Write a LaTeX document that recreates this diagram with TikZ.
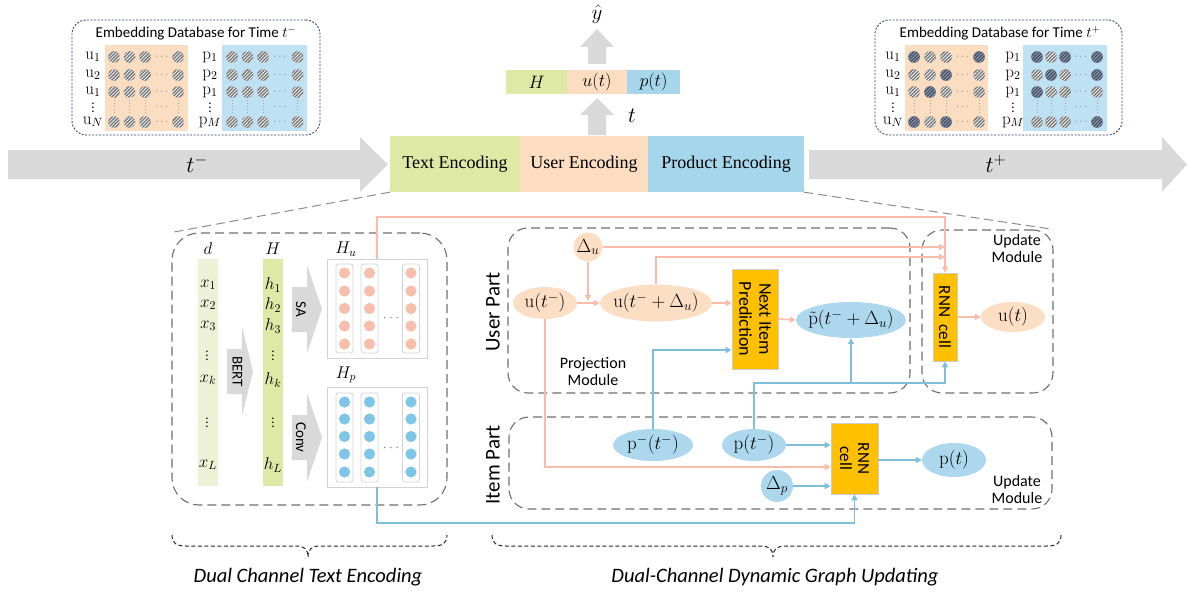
\documentclass[tikz,border=0pt]{standalone}
\IfFileExists{fix-cm.sty}{\usepackage{fix-cm}}{}
\usepackage[no-math]{fontspec}
\setmainfont{Carlito}
\newfontfamily\tnr{Liberation Serif}
\usetikzlibrary{arrows.meta,shapes.geometric,patterns,patterns.meta,calc}
\definecolor{cgreen}{RGB}{222,233,166}
\definecolor{cdcol}{RGB}{236,242,214}
\definecolor{cpeach}{RGB}{252,221,193}
\definecolor{cblue}{RGB}{166,214,236}
\definecolor{dbpeach}{RGB}{251,222,194}
\definecolor{dbblue}{RGB}{190,226,243}
\definecolor{cpink}{RGB}{248,188,168}
\definecolor{cbline}{RGB}{128,190,222}
\definecolor{cpinkdot}{RGB}{248,190,172}
\definecolor{cbluedot}{RGB}{125,198,232}
\definecolor{cyel}{RGB}{255,192,0}
\definecolor{carrow}{RGB}{217,217,217}
\definecolor{cdash}{RGB}{110,110,110}
\definecolor{cnavy}{RGB}{50,65,100}
\definecolor{cgc}{RGB}{115,115,115}
\definecolor{cdark}{RGB}{62,78,112}
\definecolor{ellpeach}{RGB}{252,222,196}
\definecolor{ellblue}{RGB}{172,215,236}
\newcommand\fsz[2]{\fontsize{#1pt}{#2pt}\selectfont}
\newcommand\zb[1]{\makebox[0pt]{#1}}
\newcommand\hcirc[3]{%
  \ifnum#3=1\relax\def\hcc{cdark}\def\hcl{gray!70}\else\def\hcc{cgc}\def\hcl{white}\fi
  \fill[\hcc] (#1,#2) circle[radius=5.8pt];
  \fill[pattern={Lines[angle=45,distance=2.4pt,line width=0.8pt]}, pattern color=\hcl] (#1,#2) circle[radius=5.8pt];}
\tikzset{
  dbox/.style={draw=cdash, line width=1.1pt, dash pattern=on 9pt off 5pt, rounded corners=#1, inner sep=0pt},
  dbline/.style={draw=cdash!80, line width=1pt, dash pattern=on 9pt off 5pt},
  dbframe/.style={draw=cnavy, line width=0.9pt, dash pattern=on 2pt off 1.5pt, rounded corners=14pt, inner sep=0pt},
  band/.style={inner sep=0pt, minimum height=56pt, font=\tnr\fsz{18}{20}},
  rowbox/.style={inner sep=0pt, minimum height=24pt, font=\fsz{18}{20}},
  pk/.style={draw=cpink, line width=1.6pt},
  bl/.style={draw=cbline, line width=1.6pt},
  arw/.style={-{Triangle[length=6pt,width=6pt]}},
  uel/.style={ellipse, fill=ellpeach, inner sep=0pt, font=\fsz{19}{21}},
  pel/.style={ellipse, fill=ellblue, inner sep=0pt, font=\fsz{19}{21}},
  ybox/.style={fill=cyel, draw=gray!40, line width=0.6pt, inner sep=0pt},
  rtxt/.style={rotate=-90, align=center, font=\fsz{18}{20}},
  colbox/.style={draw=gray!35, line width=0.8pt, rounded corners=2.5pt},
  hbox/.style={draw=gray!35, line width=1pt, inner sep=0pt},
  lab/.style={font=\fsz{15}{17}},
  mlab/.style={font=\fsz{17}{19}},
  vlab/.style={font=\fsz{13}{14}},
  dotn/.style={font=\fsz{11}{12}, text=gray, inner sep=0pt},
  modl/.style={align=center, font=\fsz{16}{17}},
  brace/.style={draw=black!85, line width=1pt, dash pattern=on 4pt off 2.5pt},
}
\begin{document}
\begin{tikzpicture}[x=1pt,y=-1pt]
\useasboundingbox (0,0) rectangle (1188,594);

% ---------- timeline ----------
\fill[carrow] (8,150) -- (360,150) -- (360,137) -- (388,164.5) -- (360,192) -- (360,179) -- (8,179) -- cycle;
\fill[carrow] (809,150) -- (1162,150) -- (1162,137) -- (1187,164.5) -- (1162,192) -- (1162,179) -- (809,179) -- cycle;
\node[font=\fsz{23}{25}] (tm) at (197,164) {$t^-$};
\node[font=\fsz{23}{25}] (tp) at (996,164) {$t^+$};

\node[band, fill=cgreen, minimum width=130pt] (te) at (455,164) {Text Encoding};
\node[band, fill=cpeach, minimum width=128pt] (ue) at (584,164) {User Encoding};
\node[band, fill=cblue, minimum width=156pt] (pe) at (726,164) {Product Encoding};

% ---------- top output ----------
\node[rowbox, fill=cgreen, minimum width=61pt] (hb) at (536.5,82) {$H$};
\node[rowbox, fill=cpeach, minimum width=60pt] (ub) at (597,82) {$u(t)$};
\node[rowbox, fill=cblue, minimum width=53pt] (pb) at (653.5,82) {$p(t)$};
\fill[carrow] (588,135) -- (588,115) -- (580,115) -- (597,98) -- (614,115) -- (606,115) -- (606,135) -- cycle;
\fill[carrow] (588,64) -- (588,47) -- (580,47) -- (597,29) -- (614,47) -- (606,47) -- (606,64) -- cycle;
\node[font=\fsz{21}{23}] (yh) at (597,14) {$\hat{y}$};
\node[font=\fsz{22}{24}] (tt) at (632,116) {$t$};

% ---------- left database ----------
\node[dbframe, minimum width=248pt, minimum height=115pt] (dbL) at (196,77.5) {};
\node[lab] (dbLt) at (196,33) {Embedding Database for Time $t^-$};
\fill[dbpeach] (105,45) rectangle (188,131);
\fill[dbblue] (222,45) rectangle (307,131);
\foreach \y/\s [count=\i] in {57/1,75/2,92/1,122/N} {
  \node[mlab] (uL\i) at (93,\y) {$\mathrm{u}_{\s}$};
}
\foreach \y/\s [count=\i] in {57/1,75/2,92/1,122/M} {
  \node[mlab] (pL\i) at (210,\y) {$\mathrm{p}_{\s}$};
}
\node[vlab] (uLv) at (93,105) {$\vdots$};
\node[vlab] (pLv) at (210,105) {$\vdots$};
\foreach \y in {57,75,92,122} {
  \foreach \x in {114,129.5,145,178,232,247.5,263,297.5} { \hcirc{\x}{\y}{0} }
}
\foreach \x in {114,129.5,145,178,232,247.5,263,297.5} {
  \draw[gray!70, line width=1pt, dotted] (\x,100) -- (\x,115);
}
\foreach \y [count=\i] in {57,75,92,107,122} {
  \node[dotn] (dLa\i) at (162,\y) {$\cdots$};
  \node[dotn] (dLb\i) at (280,\y) {$\cdots$};
}

% ---------- right database ----------
\node[dbframe, minimum width=247pt, minimum height=115pt] (dbR) at (998.5,77.5) {};
\node[lab] (dbRt) at (1000,33) {Embedding Database for Time $t^+$};
\fill[dbpeach] (905,45) rectangle (988,131);
\fill[dbblue] (1023,45) rectangle (1107,131);
\foreach \y/\s [count=\i] in {57/1,75/2,92/1,122/N} {
  \node[mlab] (uR\i) at (893,\y) {$\mathrm{u}_{\s}$};
}
\foreach \y/\s [count=\i] in {57/1,75/2,92/1,122/M} {
  \node[mlab] (pR\i) at (1013,\y) {$\mathrm{p}_{\s}$};
}
\node[vlab] (uRv) at (893,105) {$\vdots$};
\node[vlab] (pRv) at (1013,105) {$\vdots$};
\foreach \y/\qa/\qb/\qc/\qd/\qe/\qf/\qg/\qh in {57/1/0/0/1/1/0/1/1, 75/0/0/1/0/0/1/0/1, 92/0/1/0/0/1/0/0/0, 122/1/0/1/0/0/0/0/1} {
  \hcirc{914}{\y}{\qa} \hcirc{930}{\y}{\qb} \hcirc{946}{\y}{\qc} \hcirc{979}{\y}{\qd}
  \hcirc{1037}{\y}{\qe} \hcirc{1051}{\y}{\qf} \hcirc{1065}{\y}{\qg} \hcirc{1097}{\y}{\qh}
}
\foreach \x in {914,930,946,979,1037,1051,1065,1097} {
  \draw[gray!70, line width=1pt, dotted] (\x,100) -- (\x,115);
}
\foreach \y [count=\i] in {57,75,92,107,122} {
  \node[dotn] (dRa\i) at (962.5,\y) {$\cdots$};
  \node[dotn] (dRb\i) at (1081,\y) {$\cdots$};
}

% ---------- dashed frames ----------
\node[dbox=27pt, minimum width=275pt, minimum height=272pt] (lpanel) at (309.5,369) {};
\node[dbox=20pt, minimum width=402pt, minimum height=165pt] (userp) at (709,310.5) {};
\node[dbox=20pt, minimum width=131pt, minimum height=163pt] (updu) at (987.5,311.5) {};
\node[dbox=20pt, minimum width=543pt, minimum height=92pt] (itemp) at (780.5,463) {};
\draw[dbline] (te.south west) -- (lpanel.north west);
\draw[dbline] (pe.south east) -- (updu.north east);

% ---------- text encoding panel ----------
\node[fill=cdcol, minimum width=20pt, minimum height=227pt, inner sep=0pt] (dcol) at (208,372.5) {};
\node[fill=cgreen, minimum width=20pt, minimum height=227pt, inner sep=0pt] (hcol) at (273,372.5) {};
\node[mlab] (dl) at (208,249) {$d$};
\node[mlab] (hl) at (273,249) {$H$};
\foreach \y/\s [count=\i] in {285/1,305/2,326/3,380/k,465/L} {
  \node[mlab] (xl\i) at (208,\y) {$x_{\s}$};
  \node[mlab] (hl\i) at (273,\y) {$h_{\s}$};
}
\foreach \y [count=\i] in {353,420} {
  \node[vlab] (xv\i) at (207,\y) {$\vdots$};
  \node[vlab] (hv\i) at (273,\y) {$\vdots$};
}
\fill[carrow] (227,349) -- (242,349) -- (242,327) -- (253,371.5) -- (242,416) -- (242,394) -- (227,394) -- cycle;
\fill[carrow] (292,287) -- (307,287) -- (307,265) -- (322,309) -- (307,353) -- (307,332) -- (292,332) -- cycle;
\fill[carrow] (292,415) -- (307,415) -- (307,393) -- (322,437.5) -- (307,482) -- (307,460) -- (292,460) -- cycle;
\node[rotate=-90, font=\fsz{15}{17}] (bert) at (237.5,371.5) {BERT};
\node[rotate=-90, font=\fsz{15}{17}] (sa) at (301,309) {SA};
\node[rotate=-90, font=\fsz{15}{17}] (conv) at (301,437.5) {Conv};
\node[mlab] (hul) at (346,249) {$H_u$};
\node[mlab] (hpl) at (346,375) {$H_p$};
\node[hbox, minimum width=100pt, minimum height=99pt] (hub) at (377,308.5) {};
\node[hbox, minimum width=100pt, minimum height=100pt] (hpb) at (377,437) {};
\foreach \cx in {344.5,369.5,411} {
  \draw[colbox] ({\cx-8.5},264) rectangle ({\cx+8.5},353);
  \draw[colbox] ({\cx-8.5},393) rectangle ({\cx+8.5},482);
  \foreach \cy in {273,291,308.5,326,344} { \fill[cpinkdot] (\cx,\cy) circle[radius=5.6pt]; }
  \foreach \cy in {402,419,436.5,454,472} { \fill[cbluedot] (\cx,\cy) circle[radius=5.6pt]; }
}
\node[dotn, font=\fsz{14}{14}] (hud) at (391,318) {$\cdots$};
\node[dotn, font=\fsz{14}{14}] (hpd) at (391,448) {$\cdots$};
\coordinate (hutop) at (377,259);
\coordinate (hpbot) at (377,487);

% ---------- labels of parts ----------
\node[rotate=90, font=\fsz{21}{23}] (upl) at (493,312) {User Part};
\node[rotate=90, font=\fsz{21}{23}] (ipl) at (493,465) {Item Part};
\node[modl] (projm) at (593,372) {Projection\\Module};
\node[modl] (updm1) at (1017,249) {Update\\Module};
\node[modl] (updm2) at (1017,489) {Update\\Module};

% ---------- user part nodes ----------
\node[circle, fill=ellpeach, inner sep=0pt, minimum size=29pt, font=\fsz{19}{21}] (du) at (588,247) {$\Delta_u$};
\node[uel, minimum width=64pt, minimum height=32pt] (ut0) at (545,303) {\zb{$\mathrm{u}(t^-)$}};
\node[uel, minimum width=112pt, minimum height=37pt] (utd) at (656,303) {\zb{$\mathrm{u}(t^-+\Delta_u)$}};
\node[ybox, minimum width=46pt, minimum height=100pt] (nip) at (755,319) {};
\node[rtxt] (nipt) at (755,319) {Next Item\\Prediction};
\node[pel, minimum width=110pt, minimum height=36pt] (ptl) at (851,320) {\zb{$\tilde{\mathrm{p}}(t^-+\Delta_u)$}};
\node[ybox, minimum width=24pt, minimum height=88pt] (rnnu) at (945,317) {};
\node[rtxt, font=\fsz{17}{19}] (rnnut) at (945,317) {RNN\ \ cell};
\node[uel, minimum width=64pt, minimum height=30pt] (ut) at (1013,317) {\zb{$\mathrm{u}(t)$}};

% ---------- item part nodes ----------
\node[pel, minimum width=80pt, minimum height=32pt] (pm) at (653,445) {\zb{$\mathrm{p}^-(t^-)$}};
\node[pel, minimum width=64pt, minimum height=32pt] (p0) at (754,445) {\zb{$\mathrm{p}(t^-)$}};
\node[ybox, minimum width=47pt, minimum height=71pt] (rnnp) at (854.5,458.5) {};
\node[rtxt, font=\fsz{17}{18}] (rnnpt) at (854.5,458.5) {RNN\\cell};
\node[pel, minimum width=64pt, minimum height=34pt] (ptt) at (954,460) {\zb{$\mathrm{p}(t)$}};
\node[circle, fill=ellblue, inner sep=0pt, minimum size=32pt, font=\fsz{19}{21}] (dp) at (777,486) {$\Delta_p$};

% ---------- pink connectors ----------
\draw[pk, arw] (hutop) -- (hutop |- 0,217) -| (rnnu.north);
\draw[pk, arw] (du.east) -- (rnnu.north |- du.east);
\draw[pk, arw] (utd.north) |- (rnnu.north |- 0,257);
\draw[pk, arw] (du.south) -- (du.south |- 0,301);
\draw[pk, arw] (ut0.east) -- (utd.west);
\draw[pk, arw] (utd.east) -- (nip.west |- utd.east);
\draw[pk, arw] (nip.east) -- (ptl.west);
\draw[pk, arw] (ut0.south) |- (rnnp.west |- 0,467);
\draw[pk, arw] (rnnu.east |- ut.west) -- (ut.west);

% ---------- blue connectors ----------
\coordinate (bj) at (ptl.south |- 0,383);
\draw[bl, arw] (pm.north) |- (nip.west |- 0,350);
\draw[bl, arw] (p0.north) |- (rnnu.south |- 0,383) -- (rnnu.south);
\draw[bl, arw] (bj) -- (ptl.south);
\draw[bl, arw] (p0.east) -- (rnnp.west |- p0.east);
\draw[bl, arw] (dp.east) -- (rnnp.west |- dp.east);
\draw[bl, arw] (rnnp.east |- ptt.west) -- (ptt.west);
\draw[bl, arw] (hpbot) |- (rnnp.south |- 0,523) -- (rnnp.south);

% ---------- braces ----------
\draw[brace] (172,535) .. controls (172,543) and (176,546) .. (186,546) -- (296,546) .. controls (304,546) and (308,549) .. (308,557) .. controls (308,549) and (312,546) .. (320,546) -- (433,546) .. controls (443,546) and (447,543) .. (447,535);
\draw[brace] (492,535) .. controls (492,543) and (496,546) .. (506,546) -- (761,546) .. controls (769,546) and (773,549) .. (773,557) .. controls (773,549) and (777,546) .. (785,546) -- (1047,546) .. controls (1057,546) and (1061,543) .. (1061,535);
\node[font=\fsz{20.5}{22}\itshape] (lbl1) at (308,577) {Dual Channel Text Encoding};
\node[font=\fsz{20.5}{22}\itshape] (lbl2) at (775,577) {Dual-Channel Dynamic Graph Updating};
\end{tikzpicture}
\end{document}
